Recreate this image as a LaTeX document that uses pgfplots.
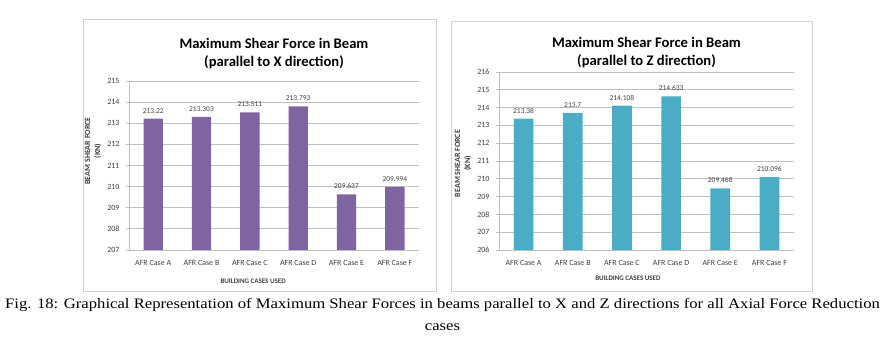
\documentclass[border=0pt]{standalone}
\usepackage{pgfplots}
\pgfplotsset{compat=1.18}
\usepackage{fontspec}
\setmainfont{Carlito}
\newfontfamily\capfont{Liberation Serif}
\definecolor{purplebar}{HTML}{8064A2}
\definecolor{tealbar}{HTML}{4BACC6}
\definecolor{gridgray}{HTML}{BFBFBF}
\definecolor{framegray}{HTML}{D0D0D0}
\definecolor{txt}{HTML}{404040}
\pgfplotsset{
  excelbar/.style={
    scale only axis,
    ybar, bar width=0.4,
    xmin=-0.5, xmax=5.5,
    xtick={0,1,2,3,4,5},
    xticklabels={AFR Case A,AFR Case B,AFR Case C,AFR Case D,AFR Case E,AFR Case F},
    ytick distance=1,
    axis x line*=bottom, axis y line*=left,
    axis line style={gridgray, line width=0.8bp, -},
    ymajorgrids, major grid style={gridgray, line width=0.8bp},
    x tick style={draw=none},
    y tick style={gridgray, line width=0.8bp},
    tick align=outside, major tick length=3bp,
    /pgf/number format/assume math mode=true,
    tick label style={font=\fontsize{8}{9}\selectfont, text=txt},
    yticklabel style={xshift=-3bp},
    xticklabel style={yshift=-3.5bp},
    point meta=explicit symbolic,
    nodes near coords,
    every node near coord/.append style={font=\fontsize{7.5}{8}\selectfont, text=txt, yshift=2bp},
    xlabel={BUILDING CASES USED},
    xlabel style={font=\bfseries\fontsize{7}{8}\selectfont, text=txt, anchor=center},
    ylabel={BEAM SHEAR FORCE\\(KN)},
    ylabel style={font=\bfseries\fontsize{8}{10}\selectfont, text=txt, align=center, anchor=center, rotate=0},
    title style={font=\bfseries\fontsize{14.7}{18}\selectfont, text=black, align=center, anchor=center, yshift=-8bp},
  }
}
\begin{document}
\begin{tikzpicture}[x=1bp,y=1bp]
\useasboundingbox[fill=white] (0bp,0bp) rectangle (885bp,343bp);
% chart frames
\draw[framegray, line width=1bp] (83bp,323bp) rectangle (436bp,51bp);
\draw[framegray, line width=1bp] (451bp,321bp) rectangle (812bp,51bp);
% left chart
\begin{axis}[excelbar,
  at={(129bp,93bp)}, anchor=south west,
  width=290bp, height=169bp,
  ymin=207, ymax=215,
  title={Maximum Shear Force in Beam\\(parallel to X direction)},
  title style={at={(axis description cs:0.5,1.175)}},
  xlabel style={at={(axis description cs:0.428,-0.185)}},
  ylabel style={at={(axis description cs:-0.124,0.586)}},
]
\addplot[fill=purplebar, draw=none] coordinates {
  (0,213.22) [213.22]
  (1,213.303) [213.303]
  (2,213.511) [213.511]
  (3,213.793) [213.793]
  (4,209.637) [209.637]
  (5,209.994) [209.994]
};
\end{axis}
% right chart
\begin{axis}[excelbar,
  at={(499bp,93bp)}, anchor=south west,
  width=295bp, height=178bp,
  ymin=206, ymax=216,
  title={Maximum Shear Force in Beam\\(parallel to Z direction)},
  title style={at={(axis description cs:0.5,1.12)}},
  xlabel style={at={(axis description cs:0.437,-0.16)}},
  ylabel style={at={(axis description cs:-0.122,0.486)}},
]
\addplot[fill=tealbar, draw=none] coordinates {
  (0,213.38) [213.38]
  (1,213.7) [213.7]
  (2,214.108) [214.108]
  (3,214.633) [214.633]
  (4,209.468) [209.468]
  (5,210.096) [210.096]
};
\end{axis}
% caption
\node[font=\capfont\fontsize{14.5}{17}\selectfont, anchor=center, xscale=1.153] at (442.5bp,38bp) {Fig. 18: Graphical Representation of Maximum Shear Forces in beams parallel to X and Z directions for all Axial Force Reduction};
\node[font=\capfont\fontsize{14.5}{17}\selectfont, anchor=center, xscale=1.153] at (442.5bp,16bp) {cases};
\end{tikzpicture}
\end{document}
